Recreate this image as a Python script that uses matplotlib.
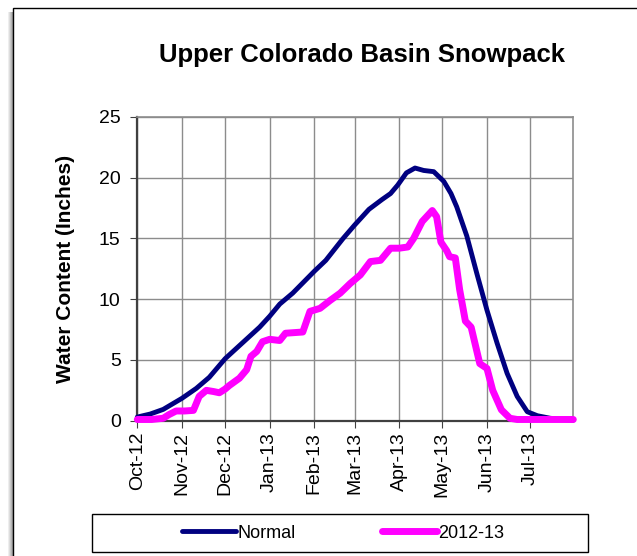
import numpy as np
import pandas as pd
import matplotlib
matplotlib.use("Agg")
import matplotlib.pyplot as plt
import matplotlib.dates as mdates
from matplotlib.patches import Rectangle

plt.rcParams['font.family'] = ['Liberation Sans', 'DejaVu Sans']

start = pd.Timestamp('2012-10-01')

# days after Oct 1 2012 and snow water equivalent (inches)
normal_days = [0, 9, 18, 31, 41, 50, 61, 73, 85, 92, 99, 108, 123, 131, 143, 151,
               161, 170, 176, 181, 187, 193, 199, 206, 213, 218, 222, 229, 236,
               243, 250, 257, 264, 271, 278, 287, 296, 303]
normal_vals = [0.3, 0.55, 0.93, 1.84, 2.66, 3.57, 5.1, 6.4, 7.7, 8.6, 9.6, 10.5, 12.3,
               13.2, 15.0, 16.1, 17.4, 18.2, 18.7, 19.4, 20.4, 20.8, 20.6, 20.5, 19.7,
               18.7, 17.6, 15.2, 12.1, 9.1, 6.4, 3.9, 2.0, 0.74, 0.41, 0.2, 0.1, 0.05]

wy_days = [0, 10, 18, 22, 27, 33, 39, 43, 48, 53, 57, 61, 64, 71, 76, 79, 83, 87, 92,
           99, 103, 115, 120, 127, 134, 141, 148, 155, 162, 169, 176, 182, 188, 192,
           198, 205, 208, 211, 215, 217, 221, 224, 228, 232, 238, 243, 247, 253, 259,
           264, 303]
wy_vals = [0.1, 0.1, 0.2, 0.5, 0.8, 0.8, 0.85, 2.0, 2.5, 2.4, 2.3, 2.6, 2.9, 3.5, 4.2,
           5.3, 5.7, 6.5, 6.7, 6.6, 7.2, 7.3, 9.0, 9.25, 9.9, 10.5, 11.3, 12.0, 13.1,
           13.2, 14.2, 14.2, 14.3, 15.0, 16.4, 17.3, 16.8, 14.7, 14.0, 13.5, 13.4, 10.8,
           8.2, 7.7, 4.7, 4.3, 2.5, 0.9, 0.2, 0.1, 0.1]

month_ticks = pd.date_range('2012-10-01', '2013-07-01', freq='MS')
y_ticks = [0, 5, 10, 15, 20, 25]

normal_dates = start + pd.to_timedelta(normal_days, unit='D')
wy_dates = start + pd.to_timedelta(wy_days, unit='D')

fig = plt.figure(figsize=(6.37, 5.56), dpi=100)

# chart frame with a soft shadow on the left
shades = ['#eeeeee', '#dddddd', '#c8c8c8', '#b4b4b4', '#a0a0a0']
for i, c in enumerate(shades):
    fig.patches.append(Rectangle(((7.5 + i) / 637, -0.1), 1.2, 1 - 12 / 556 + 0.1,
                                 transform=fig.transFigure, facecolor=c,
                                 edgecolor='none', zorder=0))
fig.patches.append(Rectangle((12.5 / 637, -0.1), 1.2, 1 - 7.5 / 556 + 0.1,
                             transform=fig.transFigure, facecolor='white',
                             edgecolor='black', linewidth=1, zorder=1))

ax = fig.add_axes([137.3 / 637, 1 - 420.7 / 556, (573.3 - 137.3) / 637, (420.7 - 117) / 556])
ax.set_zorder(2)

ax.plot(normal_dates, normal_vals, color='#000080', linewidth=3.5, label='Normal',
        solid_capstyle='round', clip_on=False, zorder=4)
ax.plot(wy_dates, wy_vals, color='#ff00ff', linewidth=5.0, label='2012-13',
        solid_capstyle='round', clip_on=False, zorder=5)

ax.set_xlim(start, start + pd.Timedelta(days=303))
ax.set_ylim(0, 25)
ax.set_xticks(month_ticks)
ax.xaxis.set_major_formatter(mdates.DateFormatter('%b-%y'))
ax.set_yticks(y_ticks)
ax.tick_params(axis='x', labelrotation=90, labelsize=14, length=5, color='#404040', pad=3)
ax.tick_params(axis='y', labelsize=14, length=5, color='#404040', pad=7)

ax.grid(True, color='#8c8c8c', linewidth=1)
ax.set_axisbelow(True)
for side in ['top', 'right']:
    ax.spines[side].set_color('#8c8c8c')
    ax.spines[side].set_linewidth(1.2)
for side in ['left', 'bottom']:
    ax.spines[side].set_color('#404040')
    ax.spines[side].set_linewidth(1.6)

ax.set_ylabel('Water Content (Inches)', fontsize=15, fontweight='bold', labelpad=17)

fig.text(362 / 637, 1 - 55 / 556, 'Upper Colorado Basin Snowpack', ha='center',
         va='center', fontsize=18.5, fontweight='bold')

# legend box
fig.patches.append(Rectangle((92 / 637, 1 - 552 / 556), (588 - 92) / 637, 38 / 556,
                             transform=fig.transFigure, facecolor='white',
                             edgecolor='black', linewidth=1, zorder=3))
leg = fig.legend(loc='center', bbox_to_anchor=(343 / 637, 1 - 533 / 556), ncol=2,
                 frameon=False, fontsize=13, handlelength=3.0, handletextpad=0.1,
                 columnspacing=4.8)
leg.set_zorder(4)

fig.savefig('out.png', dpi=100)
